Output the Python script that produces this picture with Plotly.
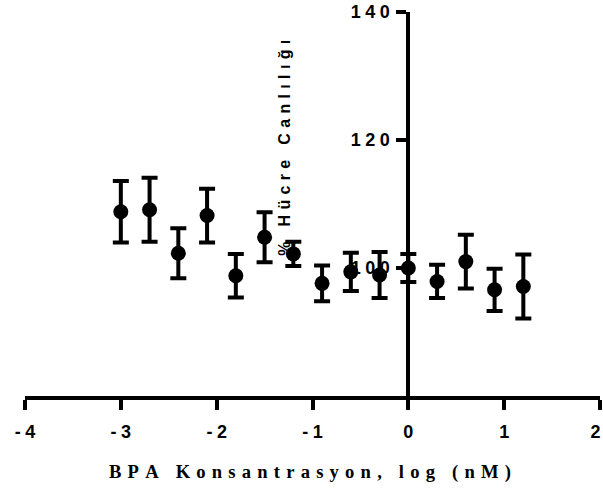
import plotly.graph_objects as go

# log concentration of BPA (nM) and mean viability (%) with error
log_conc = [-3.0, -2.7, -2.4, -2.1, -1.8, -1.5, -1.2, -0.9, -0.6, -0.3,
            0.0, 0.3, 0.6, 0.9, 1.2]
viability = [108.8, 109.1, 102.3, 108.2, 98.8, 104.8, 102.2, 97.6, 99.4, 98.9,
             100.0, 97.9, 101.0, 96.6, 97.1]
error = [4.8, 5.0, 3.9, 4.2, 3.4, 3.9, 1.9, 2.8, 3.0, 3.6,
         2.2, 2.6, 4.2, 3.3, 5.0]

x_ticks = [-4, -3, -2, -1, 0, 1, 2]
y_ticks = [100, 120, 140]

x_title = "BPA Konsantrasyon, log (nM)"
y_title = "% Hücre Canlılığı"


def spaced(s, sep):
    """Bold text with a small space between every character."""
    return "<b>" + sep.join(list(s)) + "</b>"


TICK_SEP = "\u2005"
X_TITLE_SEP = "\u2004"
Y_TITLE_SEP = "\u2004"

sans = "Liberation Sans, Arial, sans-serif"
serif = "Liberation Serif, Times New Roman, serif"

x_ticktext = [spaced(str(v), TICK_SEP) for v in x_ticks]
# keep the last label inside the page edge
x_ticktext[-1] = x_ticktext[-1] + "\u2002"

fig = go.Figure()
fig.add_trace(go.Scatter(
    x=log_conc, y=viability,
    mode="markers",
    marker=dict(color="black", size=15, symbol="circle"),
    error_y=dict(type="data", array=error, visible=True,
                 color="black", thickness=4, width=8),
    showlegend=False,
))

fig.update_layout(
    width=603, height=496,
    margin=dict(l=25, r=3, t=12, b=100, autoexpand=False),
    paper_bgcolor="white", plot_bgcolor="white",
    xaxis=dict(
        range=[-4, 2], domain=[0, 1],
        showgrid=False, zeroline=False,
        showline=True, linecolor="black", linewidth=4,
        ticks="outside", ticklen=10, tickwidth=4, tickcolor="black",
        tickvals=x_ticks,
        ticktext=x_ticktext,
        tickfont=dict(family=sans, size=18, color="black"),
        ticklabelstandoff=6,
        ticklabeloverflow="allow",
        automargin=False,
        fixedrange=True,
    ),
    yaxis=dict(
        range=[80, 140],
        anchor="free", position=4 / 6,
        showgrid=False, zeroline=False,
        showline=True, linecolor="black", linewidth=4,
        ticks="outside", ticklen=10, tickwidth=4, tickcolor="black",
        tickvals=y_ticks,
        ticktext=[spaced(str(v), TICK_SEP) for v in y_ticks],
        tickfont=dict(family=sans, size=18, color="black"),
        ticklabelstandoff=3,
        layer="below traces",
        automargin=False,
        fixedrange=True,
    ),
    annotations=[
        dict(
            text=spaced(x_title, X_TITLE_SEP),
            xref="paper", yref="paper", x=0.495, y=-0.198,
            xanchor="center", yanchor="middle", showarrow=False,
            font=dict(family=serif, size=18.6, color="black"),
        ),
        dict(
            text=spaced(y_title, Y_TITLE_SEP),
            xref="paper", yref="paper", x=0.452, y=0.646,
            xanchor="center", yanchor="middle", showarrow=False,
            textangle=-90,
            font=dict(family=sans, size=16, color="black"),
        ),
    ],
)

fig.write_html("out.html")
